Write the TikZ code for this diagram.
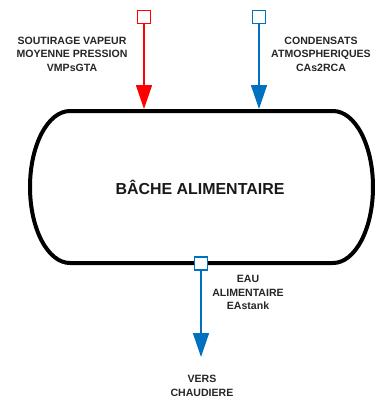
\documentclass[tikz,border=0pt]{standalone}
\usepackage{fontspec}
\setmainfont{Liberation Sans}
\usetikzlibrary{arrows.meta}
\definecolor{flowblue}{RGB}{0,112,192}
\definecolor{flowred}{RGB}{255,0,0}
\begin{document}
\begin{tikzpicture}[x=1bp,y=-1bp,
  port/.style={draw=#1,line width=1.3bp,minimum size=13bp,inner sep=0pt,fill=white},
  flow/.style={draw=#1,line width=1.5bp,-{Triangle[width=16bp,length=24bp,fill=#1]}},
  lbl/.style={font=\bfseries\fontsize{10.6}{13.6}\selectfont,align=center,text=black!85}]
\useasboundingbox (0,0) rectangle (379,401);
% tank
\draw[line width=4bp] (70,111) -- (333,111)
  arc[start angle=-90,end angle=90,x radius=40,y radius=76]
  -- (70,263)
  arc[start angle=90,end angle=270,x radius=40,y radius=76] -- cycle;
\node[font=\bfseries\fontsize{16}{18}\selectfont,text=black!90] (tank) at (200,187) {BÂCHE ALIMENTAIRE};
\coordinate (vtop) at (144,109);
\coordinate (ctop) at (259,109);
\coordinate (vers) at (201,357);
% ports
\node[port=flowred] (vin) at (144,17) {};
\node[port=flowblue] (cin) at (259,17) {};
\node[port=flowblue] (eout) at (201,263.5) {};
% flows
\draw[flow=flowred] (vin.south) -- (vtop);
\draw[flow=flowblue] (cin.south) -- (ctop);
\draw[flow=flowblue] (eout.south) -- (vers);
% labels
\node[lbl] (lv) at (72,54) {SOUTIRAGE VAPEUR\\MOYENNE PRESSION\\VMPsGTA};
\node[lbl] (lc) at (321,54) {CONDENSATS\\ATMOSPHERIQUES\\CAs2RCA};
\node[lbl] (le) at (248,292.5) {EAU\\ALIMENTAIRE\\EAstank};
\node[lbl] (lvers) at (202,386) {VERS\\CHAUDIERE};
\end{tikzpicture}
\end{document}
